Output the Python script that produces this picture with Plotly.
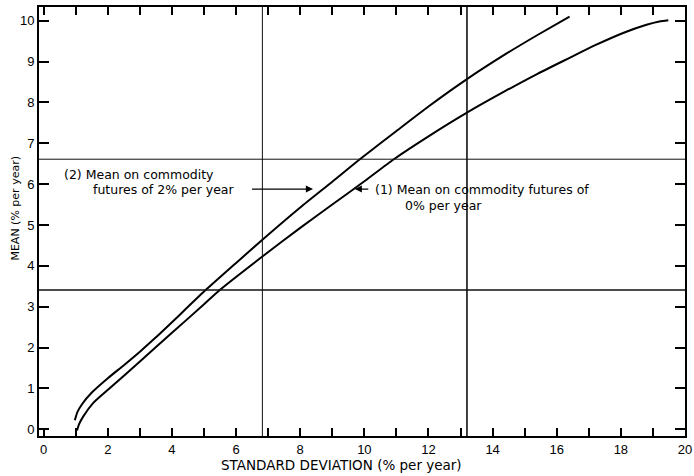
import plotly.graph_objects as go

# Curve (2): mean on commodity futures of 2% per year
sd_2 = [0.97, 1.05, 1.2, 1.5, 2.0, 2.5, 3.0, 3.5, 4.0, 5.0, 6.0, 6.82, 8.0, 9.0, 9.86, 11.0, 12.0, 13.2, 14.4, 15.4, 16.4]
mean_2 = [0.22, 0.42, 0.62, 0.90, 1.25, 1.57, 1.90, 2.25, 2.62, 3.37, 4.07, 4.64, 5.43, 6.06, 6.61, 7.30, 7.90, 8.57, 9.18, 9.65, 10.1]

# Curve (1): mean on commodity futures of 0% per year
sd_1 = [1.04, 1.1, 1.23, 1.54, 2.11, 3.0, 4.0, 5.0, 5.49, 6.82, 8.0, 9.0, 10.0, 10.92, 12.0, 13.2, 14.4, 15.4, 16.4, 17.2, 18.07, 18.8, 19.2, 19.48]
mean_1 = [-0.03, 0.12, 0.31, 0.64, 1.04, 1.66, 2.36, 3.06, 3.41, 4.23, 4.93, 5.50, 6.07, 6.61, 7.17, 7.75, 8.28, 8.70, 9.09, 9.40, 9.70, 9.90, 9.98, 10.01]

# Reference lines
hlines = [6.61, 3.41]
hline_widths = [1, 1.6]
vlines = [6.82, 13.2]
vline_widths = [1, 1.6]

# Ticks
x_tickvals = list(range(0, 21))
x_ticktext = [str(v) if v % 2 == 0 else "" for v in x_tickvals]
y_tickvals = list(range(0, 11))
y_ticktext = [str(v) for v in y_tickvals]

FONT = "DejaVu Sans"

fig = go.Figure()
for xs, ys in [(sd_2, mean_2), (sd_1, mean_1)]:
    fig.add_trace(go.Scatter(x=xs, y=ys, mode="lines",
                             line=dict(color="black", width=2, shape="spline", smoothing=0.6),
                             showlegend=False, hoverinfo="skip"))

for v, w in zip(hlines, hline_widths):
    fig.add_hline(y=v, line=dict(color="#111", width=w))
for v, w in zip(vlines, vline_widths):
    fig.add_vline(x=v, line=dict(color="#111", width=w))

annotations = [
    dict(x=0.58, y=6.23, text="(2) Mean on commodity", xanchor="left", yanchor="middle"),
    dict(x=1.49, y=5.88, text="futures of 2% per year", xanchor="left", yanchor="middle"),
    dict(x=10.27, y=5.88, text="(1) Mean on commodity futures of", xanchor="left", yanchor="middle"),
    dict(x=11.2, y=5.47, text="0% per year", xanchor="left", yanchor="middle"),
]
for a in annotations:
    fig.add_annotation(xref="x", yref="y", showarrow=False,
                       font=dict(family=FONT, size=12.5, color="black"), **a)

# arrows
for head, tail, yv in [(8.40, 6.45, 5.88), (9.70, 10.17, 5.88)]:
    fig.add_annotation(xref="x", yref="y", axref="x", ayref="y",
                       x=head, y=yv, ax=tail, ay=yv, text="",
                       showarrow=True, arrowhead=2, arrowsize=1.1,
                       arrowwidth=1.3, arrowcolor="black")

# axis titles
fig.add_annotation(xref="x", yref="paper", x=9.3, y=-0.068, text="STANDARD DEVIATION (% per year)",
                   showarrow=False, xanchor="center", yanchor="middle",
                   font=dict(family=FONT, size=13.5, color="black"))
fig.add_annotation(xref="paper", yref="y", x=-0.036, y=5.42, text="MEAN (% per year)",
                   showarrow=False, textangle=-90, xanchor="center", yanchor="middle",
                   font=dict(family=FONT, size=11, color="black"))

fig.update_xaxes(range=[-0.147, 20], tickvals=x_tickvals, ticktext=x_ticktext,
                 ticks="inside", ticklen=8, tickwidth=1.5, tickcolor="black",
                 showline=True, linecolor="black", linewidth=2, mirror="ticks",
                 showgrid=False, zeroline=False, automargin=False,
                 tickfont=dict(family="Liberation Sans", size=13, color="black"))
fig.update_yaxes(range=[-0.164, 10.335], tickvals=y_tickvals, ticktext=y_ticktext,
                 ticks="inside", ticklen=10, tickwidth=1.5, tickcolor="black",
                 showline=True, linecolor="black", linewidth=2, mirror="ticks",
                 showgrid=False, zeroline=False, automargin=False,
                 tickfont=dict(family="Liberation Sans", size=13, color="black"))

fig.update_layout(width=694, height=476, margin=dict(l=39, r=9, t=7, b=40, autoexpand=False),
                  plot_bgcolor="white", paper_bgcolor="white", showlegend=False)

fig.write_html("out.html", config={"displayModeBar": False},
               post_script="document.body.style.margin='0';document.body.style.overflow='hidden';")
